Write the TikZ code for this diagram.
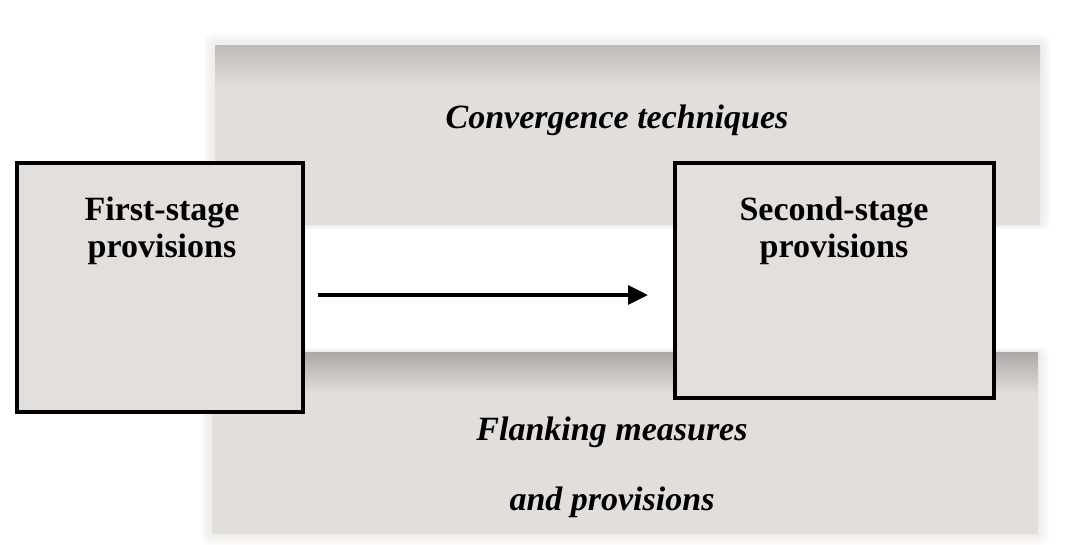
\documentclass[tikz,border=0pt]{standalone}
\usepackage{fontspec}
\setmainfont{Liberation Serif}
\usetikzlibrary{arrows.meta}

\definecolor{bandfill}{RGB}{226,222,220}
\definecolor{bandedge}{RGB}{192,187,185}
\definecolor{boxfill}{RGB}{227,223,221}

\tikzset{
  stagebox/.style={draw=black, line width=2.4pt, fill=boxfill, inner sep=0pt},
  stagetext/.style={font=\fontsize{25.5}{28}\selectfont\bfseries, align=center, inner sep=0pt},
  bandtext/.style={font=\fontsize{25.5}{28}\selectfont\bfseries\itshape, inner sep=0pt},
  halo/.style={fill=bandfill, opacity=0.09, rounded corners=6pt},
  flow/.style={line width=2.8pt, -{Triangle[length=15pt, width=14pt]}}
}

\begin{document}
\begin{tikzpicture}[x=0.75pt, y=-0.75pt]
  \useasboundingbox (0,0) rectangle (1074,544);
  \fill[white] (0,0) rectangle (1074,544);

  % upper band: soft edge, body, darker bevel along the top
  \foreach \i in {1,...,7}
    \fill[halo] (215-1.6*\i,45-1.6*\i) rectangle (1040+1.6*\i,225+0.6*\i);
  \fill[bandfill] (215,45) rectangle (1040,225);
  \shade[top color=bandedge, bottom color=bandfill] (215,45) rectangle (1040,86);

  % lower band
  \foreach \i in {1,...,7}
    \fill[halo] (212-1.6*\i,352-0.6*\i) rectangle (1038+1.6*\i,534+1.6*\i);
  \fill[bandfill] (212,352) rectangle (1038,534);
  \shade[top color=bandedge!85!black!90, bottom color=bandfill] (212,352) rectangle (1038,394);

  % band captions
  \node[bandtext] (conv) at (617,120) {Convergence techniques};
  \node[bandtext] (flank1) at (612,432) {Flanking measures};
  \node[bandtext] (flank2) at (612,502) {and provisions};

  % the two stages
  \node[stagebox, minimum width=214.5pt, minimum height=186.75pt] (first) at (160,287.5) {};
  \node[stagebox, minimum width=239.25pt, minimum height=176.25pt] (second) at (834.5,280.5) {};
  \node[stagetext] (firstlbl) at (162,231) {First-stage\\provisions};
  \node[stagetext] (secondlbl) at (834,231) {Second-stage\\provisions};

  % transition arrow
  \coordinate (from) at (318,295);
  \coordinate (to) at (648,295);
  \draw[flow] (from) -- (to);
\end{tikzpicture}
\end{document}
